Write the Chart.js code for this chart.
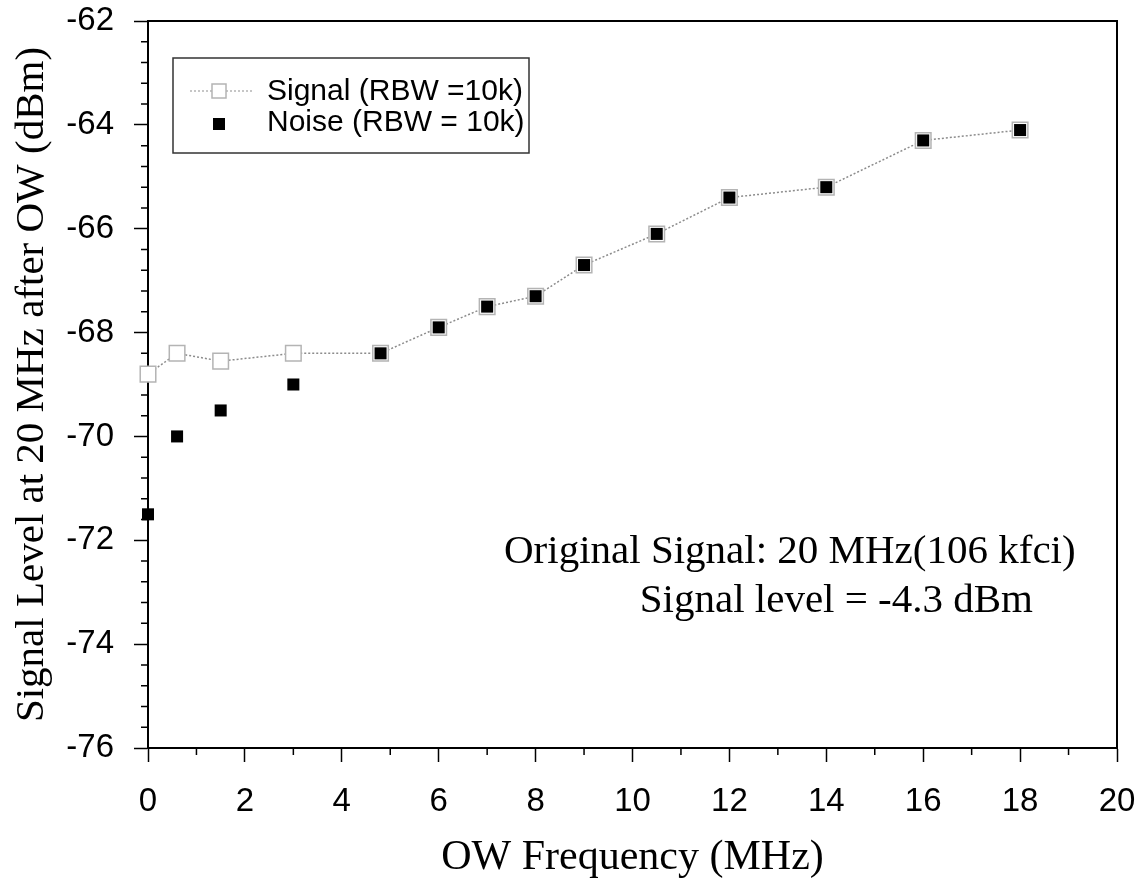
<!DOCTYPE html>
<html lang="en">
<head>
<meta charset="UTF-8">
<title>Signal Level at 20 MHz after OW</title>
<script src="https://cdn.jsdelivr.net/npm/chart.js"></script>
<style>
    * { margin: 0; padding: 0; box-sizing: border-box; }
    body { background: #fff; width: 1142px; height: 880px; overflow: hidden; }
    #wrap { width: 1142px; height: 880px; }
</style>
</head>
<body>
<div id="wrap"><canvas id="owChart" width="1142" height="880"></canvas></div>
<script>
// data
const freqMHz   = [0, 0.6, 1.5, 3, 4.8, 6, 7, 8, 9, 10.5, 12, 14, 16, 18];
const signalDbm = [-68.8, -68.4, -68.55, -68.4, -68.4, -67.9, -67.5, -67.3, -66.7, -66.1, -65.4, -65.2, -64.3, -64.1];
const noiseDbm  = [-71.5, -70.0, -69.5, -69.0, -68.4, -67.9, -67.5, -67.3, -66.7, -66.1, -65.4, -65.2, -64.3, -64.1];

const xTicks = [0, 2, 4, 6, 8, 10, 12, 14, 16, 18, 20];
const yTicks = [-76, -74, -72, -70, -68, -66, -64, -62];
const noteLines = ['Original Signal: 20 MHz(106 kfci)', 'Signal level = -4.3 dBm'];

const SANS = '"Liberation Sans", Arial, sans-serif';
const SERIF = '"Liberation Serif", "Times New Roman", serif';
const SIGNAL_GREY = '#b4b4b4';
const SIGNAL_LINE = '#8c8c8c';

function toPoints(xs, ys) {
    return xs.map((x, i) => ({ x: x, y: ys[i] }));
}

// frame + minor ticks, drawn under the markers
const frameAndMinor = {
    id: 'frameAndMinor',
    beforeDatasetsDraw(chart) {
        const { ctx, chartArea: a, scales: { x, y } } = chart;
        ctx.save();
        ctx.strokeStyle = '#000';
        ctx.lineWidth = 1.5;
        ctx.beginPath();
        for (let v = 1; v < 20; v += 2) {
            const px = x.getPixelForValue(v);
            ctx.moveTo(px, a.bottom);
            ctx.lineTo(px, a.bottom + 7);
        }
        for (let i = 1; i < 35; i++) {
            if (i % 5 === 0) continue;
            const py = y.getPixelForValue(-76 + i * 0.4);
            ctx.moveTo(a.left, py);
            ctx.lineTo(a.left - 7, py);
        }
        ctx.stroke();
        ctx.lineWidth = 2;
        ctx.strokeRect(a.left, a.top, a.right - a.left, a.bottom - a.top);
        ctx.restore();
    }
};

// legend box and the note text
const legendAndNotes = {
    id: 'legendAndNotes',
    afterDraw(chart) {
        const ctx = chart.ctx;
        const ds = chart.data.datasets;
        ctx.save();
        ctx.strokeStyle = '#333';
        ctx.lineWidth = 1.5;
        ctx.strokeRect(173, 58, 356, 95);

        // signal entry
        ctx.strokeStyle = SIGNAL_GREY;
        ctx.setLineDash([2, 2]);
        ctx.beginPath();
        ctx.moveTo(190, 91);
        ctx.lineTo(252, 91);
        ctx.stroke();
        ctx.setLineDash([]);
        ctx.fillStyle = '#fff';
        ctx.fillRect(212, 84, 14, 14);
        ctx.strokeRect(212, 84, 14, 14);
        // noise entry
        ctx.fillStyle = '#000';
        ctx.fillRect(213, 118, 12, 12);

        ctx.fillStyle = '#000';
        ctx.font = '30px ' + SANS;
        ctx.textBaseline = 'middle';
        ctx.textAlign = 'left';
        ctx.fillText(ds[1].label, 267, 92);
        ctx.fillText(ds[0].label, 267, 123);

        ctx.font = '41px ' + SERIF;
        ctx.textBaseline = 'alphabetic';
        ctx.fillText(noteLines[0], 504, 563);
        ctx.textAlign = 'right';
        ctx.fillText(noteLines[1], 1033, 612);
        ctx.restore();
    }
};

new Chart(document.getElementById('owChart'), {
    type: 'scatter',
    data: {
        datasets: [
            {
                label: 'Noise (RBW = 10k)',
                data: toPoints(freqMHz, noiseDbm),
                pointStyle: 'rect',
                pointRadius: 8.5,
                backgroundColor: '#000',
                borderColor: '#000',
                borderWidth: 0,
                showLine: false,
                clip: false,
                order: 0
            },
            {
                label: 'Signal (RBW =10k)',
                data: toPoints(freqMHz, signalDbm),
                pointStyle: 'rect',
                pointRadius: 11,
                backgroundColor: '#fff',
                borderColor: SIGNAL_LINE,
                pointBorderColor: SIGNAL_GREY,
                borderWidth: 1.5,
                borderDash: [2, 2],
                showLine: true,
                clip: false,
                order: 1
            }
        ]
    },
    options: {
        responsive: false,
        animation: false,
        layout: { padding: { top: 21, right: 25, left: 0, bottom: 0 } },
        plugins: { legend: { display: false }, tooltip: { enabled: false } },
        scales: {
            x: {
                type: 'linear',
                min: 0, max: 20,
                afterBuildTicks: s => { s.ticks = xTicks.map(v => ({ value: v })); },
                afterFit: s => { s.height = 132; s.paddingLeft = 0; s.paddingRight = 0; },
                border: { color: '#000', width: 2 },
                grid: { drawOnChartArea: false, tickLength: 14, tickWidth: 1.5, tickColor: '#000' },
                ticks: { color: '#000', padding: 20, maxRotation: 0, font: { family: SANS, size: 33 } },
                title: {
                    display: true,
                    text: 'OW Frequency (MHz)',
                    color: '#000',
                    font: { family: SERIF, size: 42, lineHeight: 0.8 },
                    padding: { top: 0, bottom: 5 }
                }
            },
            y: {
                type: 'linear',
                min: -76, max: -62,
                afterBuildTicks: s => { s.ticks = yTicks.map(v => ({ value: v })); },
                afterFit: s => { s.width = 148; s.paddingTop = 0; s.paddingBottom = 0; },
                border: { color: '#000', width: 2 },
                grid: { drawOnChartArea: false, tickLength: 14, tickWidth: 1.5, tickColor: '#000' },
                ticks: { color: '#000', padding: 20, font: { family: SANS, size: 33 } },
                title: {
                    display: true,
                    text: 'Signal Level at 20 MHz after OW (dBm)',
                    color: '#000',
                    font: { family: SERIF, size: 41, lineHeight: 1.2 },
                    padding: { top: 8, bottom: 0 }
                }
            }
        }
    },
    plugins: [frameAndMinor, legendAndNotes]
});
</script>
</body>
</html>
